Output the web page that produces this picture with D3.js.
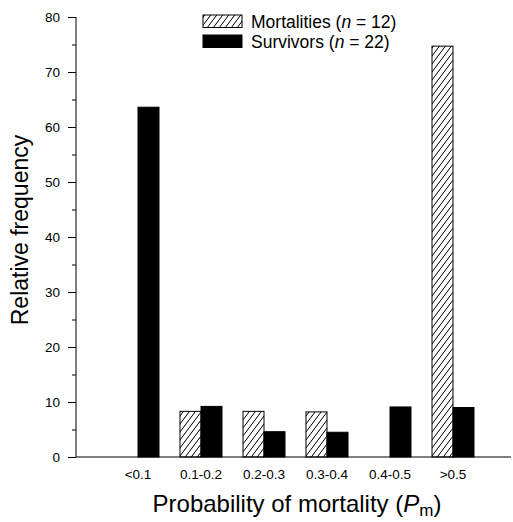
<!DOCTYPE html>
<html>
<head>
<meta charset="utf-8">
<script src="https://cdn.jsdelivr.net/npm/d3@7"></script>
<style>
  html, body { margin: 0; padding: 0; background: #fff; }
  svg { display: block; font-family: "Liberation Sans", Arial, Helvetica, sans-serif; }
</style>
</head>
<body>
<svg id="chart" width="513" height="522"></svg>
<script>
const categories = ["<0.1", "0.1-0.2", "0.2-0.3", "0.3-0.4", "0.4-0.5", ">0.5"];
const seriesNames = ["Mortalities", "Survivors"];
const seriesN = [12, 22];
const mortalities = [0, 8.3, 8.3, 8.2, 0, 74.7];
const survivors = [63.6, 9.2, 4.6, 4.5, 9.1, 9.0];
const yMajorTicks = [0, 10, 20, 30, 40, 50, 60, 70, 80];
const yMinorTicks = [5, 15, 25, 35, 45, 55, 65, 75];

const svg = d3.select("#chart");

// pattern for hatching
const defs = svg.append("defs");
const pat = defs.append("pattern")
  .attr("id", "hatch")
  .attr("patternUnits", "userSpaceOnUse")
  .attr("width", 6).attr("height", 8);
pat.append("rect").attr("width", 6).attr("height", 8).attr("fill", "#fff");
pat.append("path")
  .attr("d", "M-1.5,2 L1.5,-2 M0,8 L6,0 M4.5,10 L7.5,6")
  .attr("stroke", "#000").attr("stroke-width", 1);

const axisX = 76, plotTop = 17, plotBottom = 457, plotRight = 511;

const y = d3.scaleLinear().domain([0, 80]).range([plotBottom, plotTop]);
const x0 = d3.scaleBand().domain(categories).range([106.5, 484.5]).paddingInner(0).paddingOuter(0);
const x1 = d3.scaleBand().domain(seriesNames)
  .range([x0.bandwidth() / 6, x0.bandwidth() * 5 / 6]).padding(0);

const fills = { "Mortalities": "url(#hatch)", "Survivors": "#000" };

// bars
const rows = categories.map((c, i) => ({ cat: c, vals: [
  { s: "Mortalities", v: mortalities[i] },
  { s: "Survivors", v: survivors[i] }
]}));

const g = svg.append("g");
rows.forEach(r => {
  g.selectAll(null)
    .data(r.vals.filter(d => d.v > 0))
    .enter().append("rect")
    .attr("x", d => x0(r.cat) + x1(d.s))
    .attr("y", d => y(d.v))
    .attr("width", x1.bandwidth())
    .attr("height", d => y(0) - y(d.v))
    .attr("fill", d => fills[d.s])
    .attr("stroke", "#000")
    .attr("stroke-width", 1);
});

// Y axis
const yAxis = d3.axisLeft(y).tickValues(yMajorTicks).tickSize(8).tickPadding(8).tickFormat(d3.format("d"));
const yg = svg.append("g").attr("transform", `translate(${axisX},0)`).call(yAxis);
yg.select(".domain").remove();
yg.selectAll("text").style("font-size", "13.5px").attr("font-family", "'Liberation Sans', Arial, sans-serif").attr("fill", "#000");
yg.selectAll("line").attr("stroke", "#000");
const yMinor = d3.axisLeft(y).tickValues(yMinorTicks).tickSize(4).tickFormat("");
const ymg = svg.append("g").attr("transform", `translate(${axisX},0)`).call(yMinor);
ymg.select(".domain").remove();
ymg.selectAll("line").attr("stroke", "#000");

svg.append("line").attr("x1", axisX).attr("x2", axisX).attr("y1", y(80)).attr("y2", y(0))
  .attr("stroke", "#000").attr("stroke-width", 1);

// X axis
const xAxis = d3.axisBottom(x0).tickSize(0).tickPadding(12);
const xg = svg.append("g").attr("transform", `translate(0,${plotBottom})`).call(xAxis);
xg.select(".domain").remove();
xg.selectAll("text").style("font-size", "13.5px").attr("font-family", "'Liberation Sans', Arial, sans-serif").attr("fill", "#000");
svg.append("line").attr("x1", axisX).attr("x2", plotRight).attr("y1", y(0)).attr("y2", y(0))
  .attr("stroke", "#000").attr("stroke-width", 1);

// axis titles
svg.append("text")
  .attr("transform", `translate(28,230) rotate(-90)`)
  .attr("text-anchor", "middle")
  .attr("font-size", 23)
  .text("Relative frequency");

const xt = svg.append("text")
  .attr("x", 297).attr("y", 512)
  .attr("text-anchor", "middle")
  .attr("font-size", 24);
xt.append("tspan").text("Probability of mortality (");
xt.append("tspan").attr("font-style", "italic").text("P");
xt.append("tspan").attr("font-size", 17).attr("dy", 4).text("m");
xt.append("tspan").attr("dy", -4).text(")");

// legend
const legY = [15, 35];
seriesNames.forEach((s, i) => {
  svg.append("rect")
    .attr("x", 203).attr("y", legY[i])
    .attr("width", 39).attr("height", 12.5)
    .attr("fill", fills[s]).attr("stroke", "#000").attr("stroke-width", 1);
  const t = svg.append("text").attr("x", 251).attr("y", legY[i] + 13).attr("font-size", 17.5);
  t.append("tspan").text(s + " (");
  t.append("tspan").attr("font-style", "italic").text("n");
  t.append("tspan").text(" = " + seriesN[i] + ")");
});
</script>
</body>
</html>
